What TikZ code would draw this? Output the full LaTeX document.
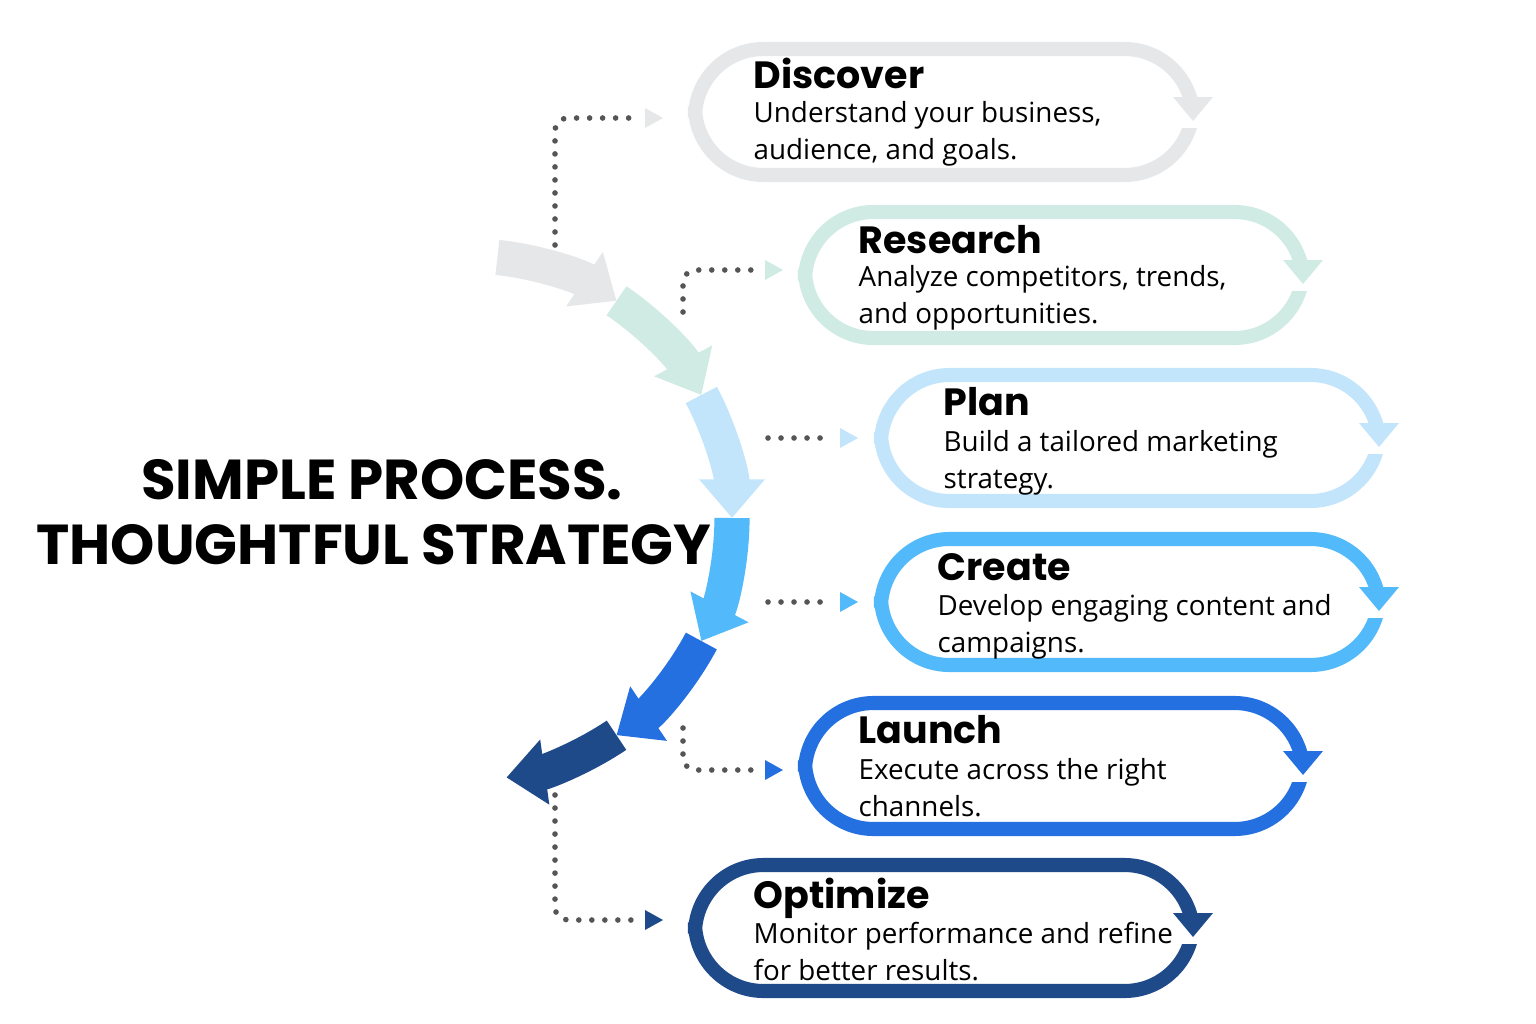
\documentclass[tikz,border=0pt]{standalone}
\usepackage{fontspec}
\setmainfont{Poppins}
\newfontfamily\bodyfont{Open Sans}
\usetikzlibrary{arrows.meta,calc}

\definecolor{cDiscover}{HTML}{E6E7E8}
\definecolor{cResearch}{HTML}{D0EBE3}
\definecolor{cPlan}{HTML}{C2E5FC}
\definecolor{cCreate}{HTML}{52B9FA}
\definecolor{cLaunch}{HTML}{2570E0}
\definecolor{cOptimize}{HTML}{1F4A8A}
\definecolor{dotgray}{HTML}{555555}

\tikzset{
  stepline/.style={line width=4pt,rounded corners=19.5pt},
  dotline/.style={dotgray,line width=1.6pt,line cap=round,dash pattern=on 0pt off 3.7pt},
  head/.style={font=\bfseries\fontsize{10.8}{12}\selectfont,anchor=base west,inner sep=0pt},
  body/.style={font=\bodyfont\fontsize{7.9}{10.5}\selectfont,anchor=base west,inner sep=0pt,align=left},
}

\begin{document}
\begin{tikzpicture}[x=0.01cm,y=-0.01cm]
  \useasboundingbox (0,0) rectangle (1536,1024);

  %title
  \node[font=\bfseries\fontsize{16}{18.5}\selectfont,align=center] (title) at (382,512)
    {SIMPLE PROCESS.\\THOUGHTFUL STRATEGY.};

  %step boxes: x-left, x-right, y-top, y-bottom, colour
  \foreach \xl/\xr/\yt/\yb/\col in {695/1193/49/175/cDiscover,805/1303/212/338/cResearch,
      881/1379/375/501/cPlan,881/1379/539/665/cCreate,805/1303/703/829/cLaunch,695/1193/865/991/cOptimize}{
    \pgfmathsetmacro{\yc}{(\yt+\yb)/2}
    \draw[stepline,\col] (\xl,\yt) rectangle (\xr,\yb);
    \fill[white] (\xr-14,\yc-12) rectangle (\xr+14,\yc+16);
    \fill[\col] (\xr-20,\yc-15) -- (\xr+20,\yc-15) -- (\xr,\yc+9) -- cycle;
  }

  %step texts
  \node[head] (discover) at (753,88) {Discover};
  \node[body] (discoverT) at (753,159) {Understand your business,\\audience, and goals.};
  \node[head] (research) at (858,253) {Research};
  \node[body] (researchT) at (858,323) {Analyze competitors, trends,\\and opportunities.};
  \node[head] (plan) at (943,415) {Plan};
  \node[body] (planT) at (943,488) {Build a tailored marketing\\strategy.};
  \node[head] (create) at (937,580) {Create};
  \node[body] (createT) at (937,652) {Develop engaging content and\\campaigns.};
  \node[head] (launch) at (858,743) {Launch};
  \node[body] (launchT) at (858,816) {Execute across the right\\channels.};
  \node[head] (optimize) at (753,908) {Optimize};
  \node[body] (optimizeT) at (753,980) {Monitor performance and refine\\for better results.};

  %curved arrow, drawn from last segment to first
  \coordinate (C) at (470,518);
  \foreach \i/\col in {5/cOptimize,4/cLaunch,3/cCreate,2/cPlan,1/cResearch,0/cDiscover}{
    \pgfmathsetmacro{\a}{-84+28*\i}
    \pgfmathsetmacro{\b}{\a+28}
    \ifnum\i=5 \pgfmathsetmacro{\b}{\a+26}\fi
    \draw[white,line width=12.5pt,-{Triangle[width=22pt,length=13pt]}]
      ($(C)+(\a:262)$) arc[start angle=\a,end angle=\b,radius=262];
    \draw[\col,line width=10pt,-{Triangle[width=18pt,length=11pt]}]
      ($(C)+(\a:262)$) arc[start angle=\a,end angle=\b,radius=262];
  }

  %dotted connectors
  \foreach \nm/\x/\y/\col in {d/645/118/cDiscover,r/765/270/cResearch,p/840/438/cPlan,
      c/840/602/cCreate,l/765/770/cLaunch,o/645/920/cOptimize}{
    \coordinate (\nm) at (\x,\y);
    \fill[\col] (\x,\y-10) -- (\x+18,\y) -- (\x,\y+10) -- cycle;
  }
  \draw[dotline] (555,245) -- (555,130) to[out=90,in=180] (568,118) -- (632,118);
  \draw[dotline] (683,312) -- (683,283) to[out=90,in=180] (696,270) -- (752,270);
  \draw[dotline] (768,438) -- (830,438);
  \draw[dotline] (768,602) -- (830,602);
  \draw[dotline] (683,728) -- (683,757) to[out=-90,in=180] (696,770) -- (752,770);
  \draw[dotline] (555,795) -- (555,907) to[out=-90,in=180] (568,920) -- (632,920);
\end{tikzpicture}
\end{document}
